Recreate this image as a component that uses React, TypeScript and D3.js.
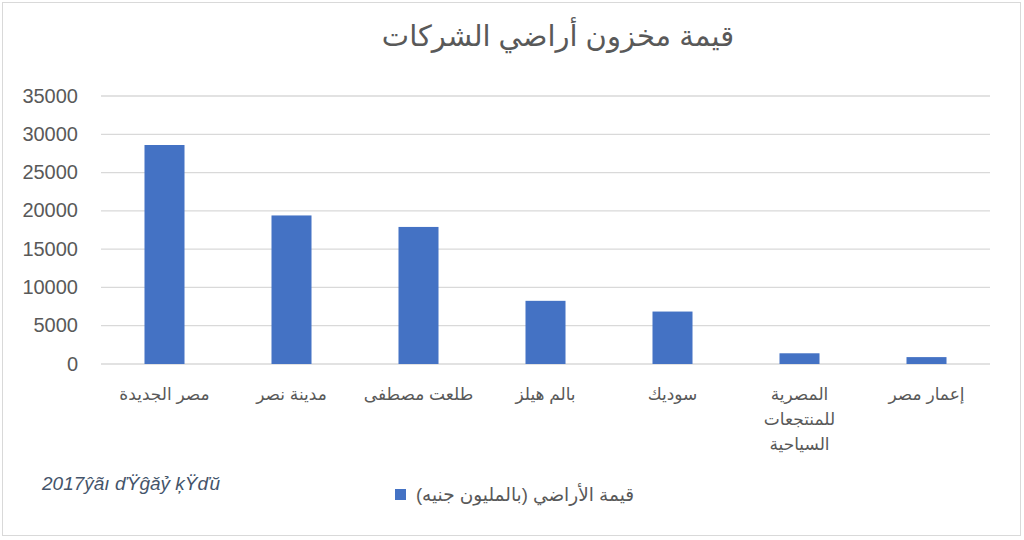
import * as d3 from 'd3';
import { useEffect, useRef } from 'react';

const categories = ['مصر الجديدة', 'مدينة نصر', 'طلعت مصطفى', 'بالم هيلز', 'سوديك', 'المصرية للمنتجعات السياحية', 'إعمار مصر'];
const categoryLines = [['مصر الجديدة'], ['مدينة نصر'], ['طلعت مصطفى'], ['بالم هيلز'], ['سوديك'], ['المصرية', 'للمنتجعات', 'السياحية'], ['إعمار مصر']];
const landValues = [28600, 19400, 17900, 8250, 6850, 1400, 900];
const yTicks = [0, 5000, 10000, 15000, 20000, 25000, 30000, 35000];

const title = 'قيمة مخزون أراضي الشركات';
const seriesName = 'قيمة الأراضي (بالمليون جنيه)';
const sourceNote = '2017ŷãı ďŸĝǎỷ ķŸďŭ';

export default function App() {
    const svgRef = useRef<SVGSVGElement>(null);

    useEffect(() => {
        if (!svgRef.current) return;

        const width = 1024;
        const height = 540;
        const margin = { top: 96, right: 34, bottom: 176, left: 101 };
        const font = "'Liberation Sans', 'DejaVu Sans', Arial, sans-serif";

        const svg = d3.select(svgRef.current).attr('width', width).attr('height', height).style('font-family', font);
        svg.selectAll('*').remove();

        svg.append('rect').attr('x', 2.5).attr('y', 2.5).attr('width', width - 6).attr('height', height - 7).attr('fill', '#fff').attr('stroke', '#d9d9d9');

        const x = d3
            .scaleBand<string>()
            .domain(categories)
            .range([margin.left, width - margin.right])
            .paddingInner(0.685)
            .paddingOuter(0.3425);

        const y = d3
            .scaleLinear()
            .domain([0, 35000])
            .range([height - margin.bottom, margin.top]);

        // gridlines
        svg.append('g')
            .selectAll('line')
            .data(yTicks)
            .join('line')
            .attr('x1', margin.left)
            .attr('x2', width - margin.right)
            .attr('y1', (d) => y(d))
            .attr('y2', (d) => y(d))
            .attr('stroke', '#d9d9d9')
            .attr('stroke-width', 1.3);

        const yAxis = svg.append('g').attr('transform', `translate(${margin.left - 23},0)`).call(d3.axisLeft(y).tickValues(yTicks).tickSize(0).tickFormat(d3.format('d')));
        yAxis.select('.domain').remove();
        yAxis.selectAll('text').attr('fill', '#595959').attr('font-size', '20px').attr('font-family', font).attr('x', 0).attr('dy', '0.3em');

        // bars
        svg.append('g')
            .selectAll('rect')
            .data(landValues)
            .join('rect')
            .attr('x', (_, i) => x(categories[i])!)
            .attr('width', x.bandwidth())
            .attr('y', (d) => y(d))
            .attr('height', (d) => y(0) - y(d))
            .attr('fill', '#4472c4');

        // category labels
        const labels = svg
            .append('g')
            .selectAll('text')
            .data(categoryLines)
            .join('text')
            .attr('x', (_, i) => x(categories[i])! + x.bandwidth() / 2)
            .attr('y', 400)
            .attr('text-anchor', 'middle')
            .attr('direction', 'rtl')
            .attr('fill', '#595959')
            .attr('font-size', '17px');
        labels
            .selectAll('tspan')
            .data((d) => d)
            .join('tspan')
            .attr('x', function () {
                return (this.parentNode as SVGTextElement).getAttribute('x');
            })
            .attr('dy', (_, j) => (j === 0 ? 0 : 25))
            .text((d) => d);

        // title
        svg.append('text')
            .attr('x', 558)
            .attr('y', 46)
            .attr('text-anchor', 'middle')
            .attr('direction', 'rtl')
            .attr('fill', '#595959')
            .attr('font-size', '29px')
            .text(title);

        // legend
        svg.append('rect').attr('x', 395).attr('y', 489).attr('width', 11).attr('height', 11).attr('fill', '#4472c4');
        svg.append('text')
            .attr('x', 525)
            .attr('y', 501)
            .attr('text-anchor', 'middle')
            .attr('direction', 'rtl')
            .attr('fill', '#595959')
            .attr('font-size', '18.5px')
            .text(seriesName);

        // source note
        svg.append('text')
            .attr('x', 42)
            .attr('y', 490)
            .attr('fill', '#44546a')
            .attr('font-size', '19px')
            .attr('font-style', 'italic')
            .text(sourceNote);
    }, []);

    return <svg ref={svgRef} style={{ position: 'absolute', left: 0, top: 0 }} />;
}
